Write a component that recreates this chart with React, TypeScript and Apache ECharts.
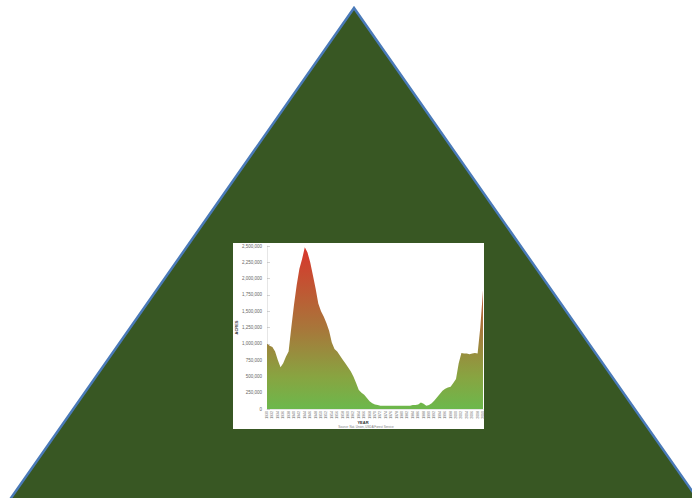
import React, { useEffect, useRef } from "react";
import * as echarts from "echarts";

const years: string[] = [];
for (let y = 1930; y <= 2010; y++) years.push(String(y));

// acres (millions), 1930..2010
const acresMillions: number[] = [
  1.0, 0.97, 0.95, 0.88, 0.75, 0.64, 0.7, 0.8, 0.88, 1.25,
  1.6, 1.9, 2.15, 2.3, 2.48, 2.4, 2.25, 2.05, 1.85, 1.62,
  1.5, 1.42, 1.32, 1.2, 1.02, 0.92, 0.88, 0.82, 0.76, 0.7,
  0.64, 0.58, 0.5, 0.4, 0.29, 0.25, 0.22, 0.17, 0.12, 0.09,
  0.07, 0.06, 0.05, 0.05, 0.05, 0.05, 0.05, 0.05, 0.05, 0.05,
  0.05, 0.05, 0.05, 0.05, 0.06, 0.06, 0.07, 0.1, 0.08, 0.05,
  0.06, 0.09, 0.13, 0.18, 0.23, 0.28, 0.31, 0.33, 0.34, 0.4,
  0.46, 0.7, 0.86, 0.85, 0.85, 0.84, 0.85, 0.86, 0.85, 1.25,
  1.82,
];
const acres = acresMillions.map((v) => Math.round(v * 1000000));

const yTickMax = 2500000;
const yTickStep = 250000;

const triangleFill = "#385723";
const triangleStroke = "#4a7ab8";

export default function App() {
  const ref = useRef<HTMLDivElement>(null);
  useEffect(() => {
    if (!ref.current) return;
    const chart = echarts.init(ref.current, undefined, { renderer: "svg" });
    const H = 520;
    const k = 0.7;
    chart.setOption({
      animation: false,
      backgroundColor: "#ffffff",
      graphic: [
        {
          type: "polygon",
          z: -20,
          shape: {
            points: [
              [354, 8],
              [354 - k * (H - 8), H],
              [354 + k * (H - 8), H],
            ],
          },
          style: { fill: triangleFill, stroke: triangleStroke, lineWidth: 2.5, lineJoin: "miter" },
        },
        {
          type: "rect",
          z: -10,
          shape: { x: 233, y: 243, width: 251, height: 186 },
          style: { fill: "#ffffff" },
        },
        {
          type: "text",
          z: 10,
          x: 363,
          y: 422,
          style: {
            text: "YEAR",
            fill: "#333",
            font: "bold 4px 'Liberation Sans', Arial, sans-serif",
            textAlign: "center",
            textVerticalAlign: "middle",
          },
        },
        {
          type: "text",
          z: 10,
          x: 366,
          y: 426.5,
          style: {
            text: "Source: Nat. Union, USDA Forest Service",
            fill: "#777",
            font: "3px 'Liberation Sans', Arial, sans-serif",
            textAlign: "center",
            textVerticalAlign: "middle",
          },
        },
      ],
      grid: { left: 267, right: 209, top: 246, bottom: 89 },
      xAxis: {
        type: "category",
        data: years,
        boundaryGap: false,
        axisLine: { show: true, lineStyle: { color: "#cccccc", width: 0.5 } },
        axisTick: { show: false },
        axisLabel: {
          interval: 1,
          rotate: 90,
          fontSize: 3.5,
          color: "#666",
          margin: 2,
          fontFamily: "'Liberation Sans', Arial, sans-serif",
        },
        splitLine: { show: false },
      },
      yAxis: {
        type: "value",
        min: 0,
        max: yTickMax,
        interval: yTickStep,
        name: "ACRES",
        nameLocation: "middle",
        nameRotate: 90,
        nameGap: 29,
        nameTextStyle: {
          fontSize: 4,
          fontWeight: "bold",
          color: "#333",
          fontFamily: "'Liberation Sans', Arial, sans-serif",
        },
        axisLine: { show: true, lineStyle: { color: "#cccccc", width: 0.5 } },
        axisTick: { show: true, inside: true, length: 3, lineStyle: { color: "#aaaaaa", width: 0.5 } },
        axisLabel: {
          fontSize: 4.5,
          color: "#666",
          margin: 5,
          fontFamily: "'Liberation Sans', Arial, sans-serif",
          formatter: (v: number) => v.toLocaleString("en-US"),
        },
        splitLine: { show: false },
      },
      series: [
        {
          type: "line",
          data: acres,
          showSymbol: false,
          lineStyle: { width: 0 },
          areaStyle: {
            opacity: 1,
            color: new echarts.graphic.LinearGradient(0, 0, 0, 1, [
              { offset: 0, color: "#d8362c" },
              { offset: 0.5, color: "#a8763a" },
              { offset: 0.8, color: "#88a441" },
              { offset: 1, color: "#6cb84c" },
            ]),
          },
        },
      ],
    });
    return () => chart.dispose();
  }, []);
  return (
    <div
      ref={ref}
      style={{ position: "fixed", left: 0, top: 0, width: 692, height: 498 }}
    />
  );
}
